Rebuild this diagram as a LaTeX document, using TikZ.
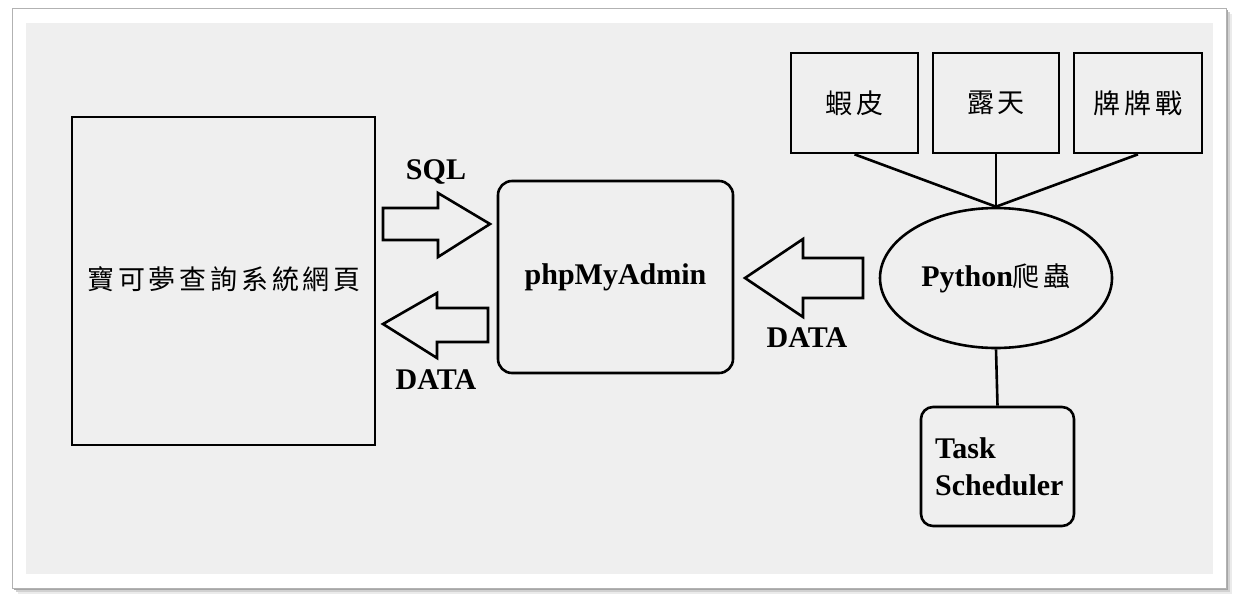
\documentclass[tikz,border=0pt]{standalone}
\usepackage{fontspec}
\setmainfont{Liberation Serif}
\newfontfamily\cjk[LetterSpace=14]{Noto Sans CJK TC}
\usetikzlibrary{shapes.geometric}
\definecolor{bggray}{HTML}{EFEFEF}
\tikzset{
  box/.style={draw, line width=2.6pt, fill=bggray},
  rbox/.style={box, rounded corners=14pt},
  blk/.style={draw, line width=2.6pt, fill=bggray, line join=miter},
  lbl/.style={font=\bfseries\fontsize{30}{34}\selectfont, inner sep=0pt},
  cjklbl/.style={font=\cjk\fontsize{27}{32}\selectfont, inner sep=0pt},
  conn/.style={line width=2.6pt},
}
\begin{document}
\begin{tikzpicture}[x=1pt,y=-1pt]
\useasboundingbox (0,0) rectangle (1239,603);
% outer frame with shadow
\foreach \o/\c in {6/8,4/18,2/35}{
  \fill[black!\c] (12+\o,8+\o) rectangle (1226+\o,588+\o);
}
\fill[white, draw=black!30, line width=0.8pt] (12,8) rectangle (1226,588);
\fill[bggray] (26,23) rectangle (1213,574);

% left web box
\node[box, minimum width=303pt, minimum height=328pt] (web) at (223.5,281) {};
\node[cjklbl] (webt) at (224,279) {寶可夢查詢系統網頁};

% phpMyAdmin
\node[rbox, minimum width=235pt, minimum height=192pt] (pma) at (615.5,277) {};
\node[lbl] at (pma.center) {phpMyAdmin};

% SQL arrow (right)
\draw[blk] (383,208) -- (438,208) -- (438,193) -- (490,224) -- (438,257) -- (438,240) -- (383,240) -- cycle;
\node[lbl] (sql) at (436,172) {SQL};
% DATA arrow (left)
\draw[blk] (488,308) -- (437,308) -- (437,293) -- (383,324) -- (437,358) -- (437,342) -- (488,342) -- cycle;
\node[lbl] (data1) at (436,380) {DATA};

% right DATA arrow
\draw[blk] (863,258) -- (803,258) -- (803,239) -- (745,278) -- (803,317) -- (803,298) -- (863,298) -- cycle;
\node[lbl] (data2) at (807,338) {DATA};

% top source boxes
\node[box, minimum width=127pt, minimum height=100pt] (shopee) at (854.5,103) {};
\node[cjklbl] at (shopee.center) {蝦皮};
\node[box, minimum width=126pt, minimum height=100pt] (ruten) at (996,103) {};
\node[cjklbl] at (ruten.center) {露天};
\node[box, minimum width=128pt, minimum height=100pt] (pcb) at (1138,103) {};
\node[cjklbl] at (pcb.center) {牌牌戰};

% python ellipse
\node[ellipse, draw, line width=2.6pt, fill=bggray, minimum width=232pt, minimum height=140pt, inner sep=0pt] (py) at (996,278) {};
\node[inner sep=0pt] at (py.center) {\bfseries\fontsize{30}{34}\selectfont Python\cjk\mdseries\fontsize{27}{32}\selectfont 爬蟲};

% task scheduler
\node[rbox, rounded corners=12pt, minimum width=153pt, minimum height=119pt] (task) at (997.5,466.5) {};
\node[lbl, align=left, anchor=west, font=\bfseries\fontsize{30}{37}\selectfont] at (935,467) {Task\\Scheduler};

% connectors
\draw[conn] (shopee.south) -- (py.north);
\draw[conn] (ruten.south) -- (py.north);
\draw[conn] (pcb.south) -- (py.north);
\draw[conn] (py.south) -- (task.north);
\end{tikzpicture}
\end{document}
